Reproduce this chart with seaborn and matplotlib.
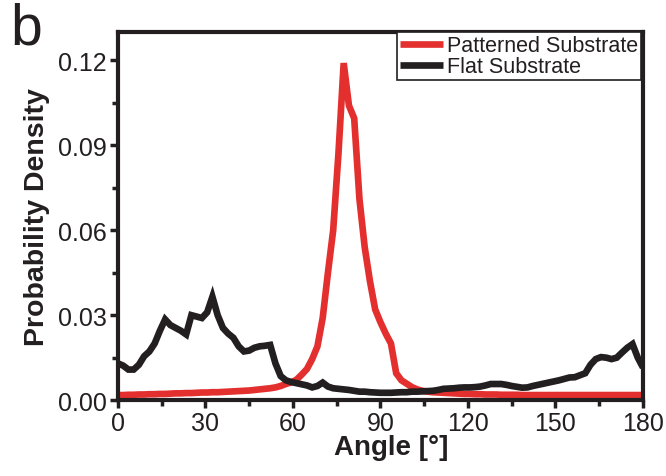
import numpy as np
import pandas as pd
import matplotlib
matplotlib.use("Agg")
import matplotlib.pyplot as plt
import seaborn as sns
from matplotlib.lines import Line2D
from matplotlib.ticker import MultipleLocator

# Angle grid (1.8 degree bins from 0 to 180)
angles = np.arange(101) * 1.8

patterned = [
    0.0018, 0.0018, 0.0019, 0.0019, 0.0020, 0.0020, 0.0021, 0.0021, 0.0022, 0.0022,
    0.0023, 0.0024, 0.0024, 0.0025, 0.0025, 0.0026, 0.0027, 0.0027, 0.0028, 0.0028,
    0.0029, 0.0030, 0.0031, 0.0032, 0.0033, 0.0034, 0.0036, 0.0038, 0.0040, 0.0042,
    0.0045, 0.0050, 0.0057, 0.0063, 0.0072, 0.0090, 0.0110, 0.0145, 0.0190, 0.0290,
    0.0450, 0.0600, 0.0870, 0.1190, 0.1040, 0.0995, 0.0710, 0.0540, 0.0420, 0.0320,
    0.0275, 0.0235, 0.0200, 0.0095, 0.0070, 0.0058, 0.0046, 0.0038, 0.0033, 0.0030,
    0.0028, 0.0027, 0.0026, 0.0025, 0.0024, 0.0023, 0.0022, 0.0022, 0.0021, 0.0021,
    0.0020, 0.0020, 0.0020, 0.0019, 0.0019, 0.0019, 0.0019, 0.0018, 0.0018, 0.0018,
    0.0018, 0.0018, 0.0018, 0.0018, 0.0018, 0.0018, 0.0018, 0.0018, 0.0018, 0.0018,
    0.0018, 0.0018, 0.0018, 0.0018, 0.0018, 0.0018, 0.0018, 0.0018, 0.0018, 0.0018,
    0.0018,
]

flat = [
    0.0130, 0.0122, 0.0108, 0.0108, 0.0125, 0.0155, 0.0172, 0.0200, 0.0245, 0.0285,
    0.0265, 0.0255, 0.0245, 0.0232, 0.0300, 0.0295, 0.0290, 0.0310, 0.0365, 0.0300,
    0.0255, 0.0235, 0.0220, 0.0190, 0.0172, 0.0175, 0.0185, 0.0190, 0.0192, 0.0195,
    0.0130, 0.0085, 0.0070, 0.0064, 0.0060, 0.0056, 0.0052, 0.0045, 0.0050, 0.0062,
    0.0048, 0.0042, 0.0040, 0.0038, 0.0036, 0.0033, 0.0030, 0.0030, 0.0028, 0.0027,
    0.0026, 0.0026, 0.0026, 0.0027, 0.0028, 0.0028, 0.0030, 0.0030, 0.0031, 0.0032,
    0.0033, 0.0036, 0.0040, 0.0041, 0.0042, 0.0044, 0.0045, 0.0045, 0.0046, 0.0048,
    0.0052, 0.0057, 0.0057, 0.0057, 0.0054, 0.0050, 0.0047, 0.0044, 0.0045, 0.0050,
    0.0054, 0.0058, 0.0062, 0.0066, 0.0070, 0.0075, 0.0080, 0.0081, 0.0088, 0.0095,
    0.0125, 0.0145, 0.0152, 0.0150, 0.0145, 0.0150, 0.0168, 0.0185, 0.0198, 0.0150,
    0.0115,
]

series_names = ["Patterned Substrate", "Flat Substrate"]
colors = ["#e3302f", "#231f20"]
x_ticks = [0, 30, 60, 90, 120, 150, 180]
y_ticks = [0.00, 0.03, 0.06, 0.09, 0.12]

df = pd.DataFrame({
    "Angle": np.concatenate([angles, angles]),
    "Density": np.concatenate([patterned, flat]),
    "Substrate": [series_names[0]] * len(angles) + [series_names[1]] * len(angles),
})

sns.set_theme(style="white")
plt.rcParams["font.family"] = ["Liberation Sans Narrow", "Liberation Sans", "DejaVu Sans"]
plt.rcParams["lines.solid_joinstyle"] = "miter"
plt.rcParams["lines.solid_capstyle"] = "butt"

ink = "#231f20"
lw = 4.8
fig = plt.figure(figsize=(6.66, 4.77), dpi=100)
ax = fig.add_axes([0.177, 0.159, 0.7885, 0.772])

sns.lineplot(data=df, x="Angle", y="Density", hue="Substrate", hue_order=series_names,
             palette=colors, sort=False, linewidth=lw, ax=ax, legend=False)

ax.set_xlim(0, 180)
ax.set_ylim(0, 0.13)
ax.set_xticks(x_ticks)
ax.set_xticklabels([str(t) for t in x_ticks])
ax.set_yticks(y_ticks)
ax.set_yticklabels([f"{t:.2f}" for t in y_ticks])
ax.xaxis.set_minor_locator(MultipleLocator(15))
ax.yaxis.set_minor_locator(MultipleLocator(0.015))

for s in ax.spines.values():
    s.set_color(ink)
    s.set_linewidth(3.0)

ax.tick_params(axis="both", which="major", direction="out", length=6, width=2.5,
               color=ink, labelsize=18, labelcolor=ink, pad=2,
               bottom=True, left=True)
ax.tick_params(axis="both", which="minor", direction="out", length=4, width=2.5,
               color=ink, bottom=True, left=True)

ax.set_xlabel("Angle [°]", fontsize=20, fontweight="bold", color=ink)
ax.xaxis.set_label_coords(0.52, -0.093)
ax.set_ylabel("Probability Density", fontsize=20.5, fontweight="bold", color=ink, labelpad=6)

handles = [Line2D([], [], color=c, linewidth=lw) for c in colors]
leg = ax.legend(handles, series_names, loc="upper right", bbox_to_anchor=(0.996, 1.0),
                fontsize=15.5, frameon=True, fancybox=False, framealpha=1,
                edgecolor=ink, borderpad=0.15, labelspacing=0.0,
                handlelength=2.0, handletextpad=0.15, borderaxespad=0.0)
leg.get_frame().set_linewidth(1.2)
for t in leg.get_texts():
    t.set_color(ink)

fig.text(0.015, 0.995, "b", fontsize=41, color=ink, ha="left", va="top",
         family=["Liberation Sans", "DejaVu Sans"])

fig.savefig("out.png", dpi=100)
